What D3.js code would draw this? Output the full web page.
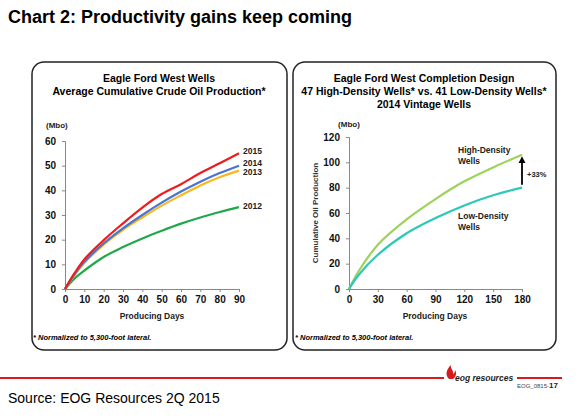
<!DOCTYPE html>
<html><head><meta charset="utf-8">
<script src="https://cdn.jsdelivr.net/npm/d3@7"></script>
<style>
body{margin:0;background:#fff;font-family:Arial,"Liberation Sans",sans-serif}
text{font-family:Arial,"Liberation Sans",sans-serif}
</style></head>
<body><svg id="c" width="580" height="419"></svg>
<script>
// left chart data (Mbo by producing day)
var daysL = [0, 5, 10, 20, 30, 40, 50, 60, 70, 80, 90];
var y2015 = [0, 6.5, 12, 19.8, 26.6, 33, 38.5, 42.5, 47, 51, 55];
var y2014 = [0, 6, 11, 18.5, 24.6, 30, 35, 39.5, 43.5, 47, 50];
var y2013 = [0, 5.7, 10.5, 18, 24, 29, 33.8, 38, 42, 45.3, 48];
var y2012 = [0, 4.3, 7.5, 13, 17, 20.5, 23.6, 26.5, 29, 31.2, 33.2];
// right chart data
var daysR = [0, 10, 30, 60, 90, 120, 150, 180];
var highD = [0, 14, 35, 55, 71, 85, 96, 106];
var lowD = [0, 11, 27, 44, 56, 66, 74, 80];

var svg = d3.select("#c");

svg.append("text").attr("x", 8).attr("y", 23).attr("font-size", 18).attr("font-weight", "bold")
  .attr("font-family", "Calibri,Carlito,'Open Sans',sans-serif").text("Chart 2:  Productivity gains keep coming");

function panel(x0, x1) {
  svg.append("rect").attr("x", x0).attr("y", 62).attr("width", x1 - x0).attr("height", 288)
    .attr("rx", 12).attr("fill", "#fff").attr("stroke", "#222").attr("stroke-width", 1.5);
}
panel(32, 287);
panel(293, 556);

function titles(cx, lines, y0) {
  lines.forEach(function(t, i) {
    svg.append("text").attr("x", cx).attr("y", y0 + i * 13).attr("text-anchor", "middle")
      .attr("font-size", 10.5).attr("font-weight", "bold").text(t);
  });
}
titles(159, ["Eagle Ford West Wells", "Average Cumulative Crude Oil Production*"], 82);
titles(424, ["Eagle Ford West Completion Design", "47 High-Density Wells* vs. 41 Low-Density Wells*", "2014 Vintage Wells"], 82);

function axes(x, y, xt, yt) {
  var g = svg.append("g").attr("font-size", 8).attr("font-weight", "bold");
  g.append("g").attr("transform", "translate(0," + y.range()[0] + ")")
    .call(d3.axisBottom(x).tickValues(xt).tickSize(3).tickPadding(4));
  g.append("g").attr("transform", "translate(" + x.range()[0] + ",0)")
    .call(d3.axisLeft(y).tickValues(yt).tickSize(3).tickPadding(6));
  g.selectAll(".domain,.tick line").attr("stroke", "#888");
  g.selectAll("text").attr("font-family", "Arial,'Liberation Sans',sans-serif").attr("fill", "#111");
}

function line(x, y, xs, ys, col) {
  svg.append("path").datum(xs.map(function(d, i) { return [d, ys[i]]; }))
    .attr("fill", "none").attr("stroke", col).attr("stroke-width", 2.2)
    .attr("d", d3.line().x(function(d) { return x(d[0]); }).y(function(d) { return y(d[1]); }).curve(d3.curveCatmullRom.alpha(0.5)));
}

function label(x, y, t, anchor, size) {
  svg.append("text").attr("x", x).attr("y", y).attr("font-size", size || 8.5).attr("font-weight", "bold")
    .attr("text-anchor", anchor || "start").attr("fill", "#222").text(t);
}

// left chart
var xL = d3.scaleLinear().domain([0, 90]).range([65, 239]);
var yL = d3.scaleLinear().domain([0, 60]).range([289, 141]);
axes(xL, yL, d3.range(0, 91, 10), d3.range(0, 61, 10));
line(xL, yL, daysL, y2012, "#20a84a");
line(xL, yL, daysL, y2013, "#f8b823");
line(xL, yL, daysL, y2014, "#4a74d0");
line(xL, yL, daysL, y2015, "#ee1c1c");
label(243, 154, "2015"); label(243, 166, "2014"); label(243, 175, "2013"); label(243, 209, "2012");
label(46, 128, "(Mbo)", "start", 8);
label(152, 319, "Producing Days", "middle", 8.5);
svg.append("text").attr("x", 33).attr("y", 340).attr("font-size", 7.5).attr("font-weight", "bold")
  .attr("font-style", "italic").text("* Normalized to 5,300-foot lateral.");

// right chart
var xR = d3.scaleLinear().domain([0, 180]).range([349, 522]);
var yR = d3.scaleLinear().domain([0, 120]).range([289, 137]);
axes(xR, yR, d3.range(0, 181, 30), d3.range(0, 121, 20));
line(xR, yR, daysR, highD, "#9dd35c");
line(xR, yR, daysR, lowD, "#2cc8b8");
label(458, 153, "High-Density"); label(458, 164, "Wells");
label(458, 219, "Low-Density"); label(458, 230, "Wells");
label(349, 127, "(Mbo)", "middle", 8);
svg.append("text").attr("transform", "translate(318,213) rotate(-90)").attr("text-anchor", "middle")
  .attr("font-size", 8).attr("font-weight", "bold").attr("fill", "#333").text("Cumulative Oil Production");
label(435, 319, "Producing Days", "middle", 8.5);
svg.append("text").attr("x", 295).attr("y", 340).attr("font-size", 7.5).attr("font-weight", "bold")
  .attr("font-style", "italic").text("* Normalized to 5,300-foot lateral.");
// +33% arrow
svg.append("defs").append("marker").attr("id", "ah").attr("viewBox", "0 0 10 10").attr("refX", 5).attr("refY", 5)
  .attr("markerWidth", 4).attr("markerHeight", 4).attr("orient", "auto")
  .append("path").attr("d", "M0,0L10,5L0,10z").attr("fill", "#000");
svg.append("line").attr("x1", 522).attr("x2", 522).attr("y1", yR(lowD[7]) - 3).attr("y2", yR(highD[7]) + 5)
  .attr("stroke", "#000").attr("stroke-width", 1.8).attr("marker-end", "url(#ah)");
label(527, 177, "+33%", "start", 7.5);

// footer
svg.append("line").attr("x1", 0).attr("x2", 444).attr("y1", 378).attr("y2", 378).attr("stroke", "#d71920").attr("stroke-width", 2);
svg.append("line").attr("x1", 517).attr("x2", 562).attr("y1", 378).attr("y2", 378).attr("stroke", "#d71920").attr("stroke-width", 2);
svg.append("path").attr("d", "M449,379c-4,-4 -3,-9 2,-14c-1,4 3,5 2,9c2,-1 2,-3 2,-4c2,3 1,7 -2,9z").attr("fill", "#d71920");
svg.append("text").attr("x", 455).attr("y", 381).attr("font-size", 8.5).attr("font-weight", "bold")
  .attr("font-style", "italic").attr("fill", "#222").text("eog resources");
svg.append("text").attr("x", 517).attr("y", 388).attr("font-size", 6).attr("fill", "#444").text("EOG_0815-")
  .append("tspan").attr("font-size", 8).attr("font-weight", "bold").attr("fill", "#222").text("17");
svg.append("text").attr("x", 8).attr("y", 403).attr("font-size", 14)
  .attr("font-family", "Calibri,Carlito,'Open Sans',sans-serif").text("Source: EOG Resources 2Q 2015");
</script></body></html>
